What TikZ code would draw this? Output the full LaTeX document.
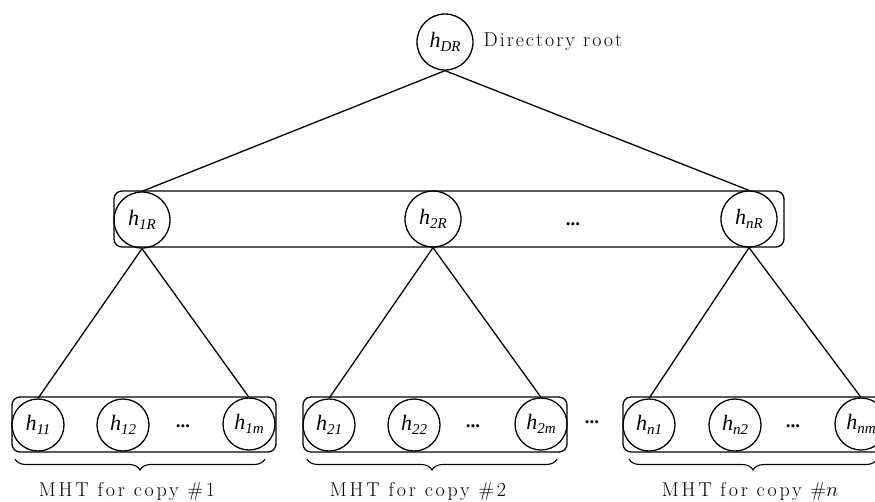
\documentclass[tikz,border=0pt]{standalone}
\usepackage{fontspec}
\newfontfamily\tms{Liberation Serif}
\newfontfamily\lblface[LetterSpace=14]{Latin Modern Roman}
\newfontfamily\rootface[LetterSpace=10]{Latin Modern Roman}
\usetikzlibrary{decorations.pathreplacing}
% hash label inside a circle: italic h with a lowered italic index
\newcommand{\hlab}[1]{{\tms\itshape\fontsize{22}{22}\selectfont h\raisebox{-3.5pt}{\fontsize{15}{15}\selectfont #1}}}
\tikzset{
  bigc/.style={circle, draw, minimum size=56pt, inner sep=0pt},
  smallc/.style={circle, draw, minimum size=52pt, inner sep=0pt},
  rowbox/.style={draw, rounded corners=8pt, inner sep=0pt, minimum height=55pt},
  dotsn/.style={font=\tms\bfseries\fontsize{19}{19}\selectfont, inner sep=0pt},
  lbl/.style={font=\lblface\fontsize{20}{21}\selectfont, inner sep=0pt},
  rootlbl/.style={font=\rootface\fontsize{20}{21}\selectfont, inner sep=0pt},
  edge/.style={line width=1.3pt},
  bracedec/.style={decorate, decoration={brace, amplitude=11pt}, line width=1.1pt}
}
\begin{document}
\begin{tikzpicture}[x=1pt, y=-1pt, line width=1.3pt]
\useasboundingbox (0,0) rectangle (875,501);

% row containers
\node[rowbox, minimum width=670pt, minimum height=56pt] (mid) at (449,219) {};
\node[rowbox, minimum width=264pt] (b1) at (144,424.5) {};
\node[rowbox, minimum width=264pt] (b2) at (435,424.5) {};
\node[rowbox, minimum width=264pt] (b3) at (755,424.5) {};

% directory root
\node[bigc] (root) at (445,42) {\hlab{DR}};
\node[rootlbl, anchor=base west] (rootname) at (483,46) {Directory root};

% per-copy roots
\node[bigc] (h1R) at (142,220) {\hlab{1R}};
\node[bigc] (h2R) at (433,219) {\hlab{2R}};
\node[bigc] (hnR) at (749,219) {\hlab{nR}};
\node[dotsn] (dR) at (573,224) {...};

% leaves of copy 1
\node[smallc] (h11) at (38,425) {\hlab{11}};
\node[smallc] (h12) at (123,425) {\hlab{12}};
\node[smallc] (h1m) at (249,424) {\hlab{1m}};
\node[dotsn] (d1) at (183,426) {...};

% leaves of copy 2
\node[smallc] (h21) at (329,425) {\hlab{21}};
\node[smallc] (h22) at (414,425) {\hlab{22}};
\node[smallc] (h2m) at (541,424) {\hlab{2m}};
\node[dotsn] (d2) at (473,426) {...};

\node[dotsn] (dgap) at (592,422) {...};

% leaves of copy n
\node[smallc] (hn1) at (649,425) {\hlab{n1}};
\node[smallc] (hn2) at (735,425) {\hlab{n2}};
\node[smallc] (hnm) at (861,424) {\hlab{nm}};
\node[dotsn] (dn) at (793,426) {...};

% tree edges
\draw[edge] (root.south) -- (h1R.north);
\draw[edge] (root.south) -- (hnR.north);
\draw[edge] (h1R.south) -- (h11.north);
\draw[edge] (h1R.south) -- (h1m.north);
\draw[edge] (h2R.south) -- (h21.north);
\draw[edge] (h2R.south) -- (h2m.north);
\draw[edge] (hnR.south) -- (hn1.north);
\draw[edge] (hnR.south) -- (hnm.north);

% braces under each copy
\coordinate (br1r) at (265,459); \coordinate (br1l) at (15,459);
\coordinate (br2r) at (557,459); \coordinate (br2l) at (307,459);
\coordinate (br3r) at (877,459); \coordinate (br3l) at (629,459);
\draw[bracedec] (br1r) -- (br1l);
\draw[bracedec] (br2r) -- (br2l);
\draw[bracedec] (br3r) -- (br3l);

\node[lbl, anchor=base] (m1) at (127,496) {MHT for copy \#1};
\node[lbl, anchor=base] (m2) at (418,496) {MHT for copy \#2};
\node[lbl, anchor=base] (m3) at (750,496) {MHT for copy \#$n$};
\end{tikzpicture}
\end{document}
